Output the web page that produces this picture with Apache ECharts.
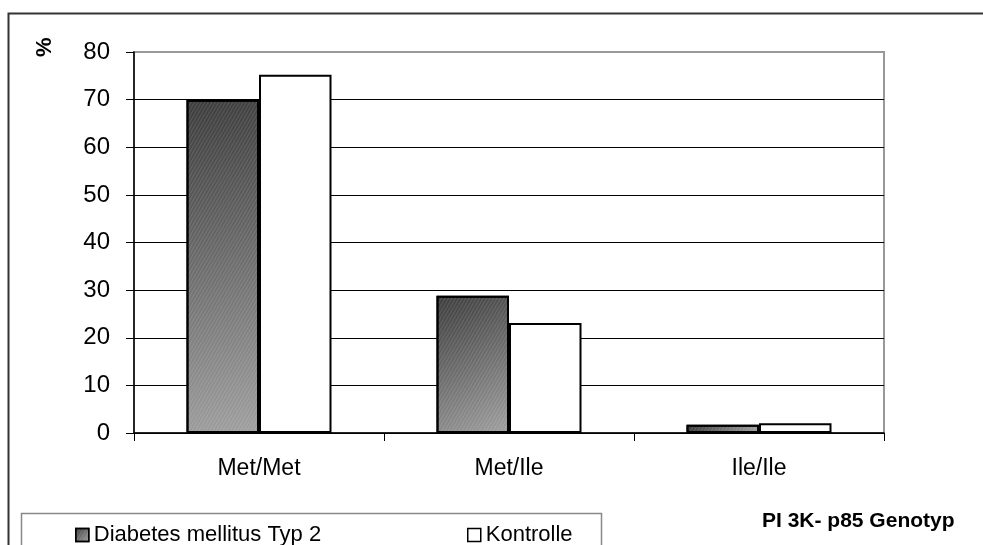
<!DOCTYPE html>
<html>
<head>
<meta charset="utf-8">
<script src="https://cdn.jsdelivr.net/npm/echarts@6/dist/echarts.min.js"></script>
<style>
  html, body { margin: 0; padding: 0; background: #fff; }
  #chart { width: 983px; height: 545px; }
</style>
</head>
<body>
<div id="chart"></div>
<script>
// genotype categories and % values
const categories = ["Met/Met", "Met/Ile", "Ile/Ile"]
const diabetesValues = [70, 28.8, 1.75]
const kontrolleValues = [75.2, 23.1, 2.05]
const yTicks = [0, 80, 10] // min, max, interval

const FONT = "'Liberation Sans', Arial, sans-serif"
const chart = echarts.init(document.getElementById("chart"))

const darkFill = new echarts.graphic.LinearGradient(0, 0, 1, 1, [
  { offset: 0, color: "#3c3c3c" },
  { offset: 1, color: "#a0a0a0" },
])

const option = {
  animation: false,
  backgroundColor: "#fff",
  textStyle: { fontFamily: FONT, color: "#000" },
  grid: {
    left: 134,
    right: 99,
    top: 52,
    bottom: 112,
    show: true,
    borderColor: "#999",
    borderWidth: 2,
  },
  xAxis: {
    type: "category",
    data: categories,
    axisLine: { lineStyle: { color: "#000", width: 1.5 } },
    axisTick: { show: true, length: 8, lineStyle: { color: "#000" } },
    axisLabel: { color: "#000", fontSize: 23, fontFamily: FONT, margin: 24 },
  },
  yAxis: {
    type: "value",
    min: yTicks[0],
    max: yTicks[1],
    interval: yTicks[2],
    axisLine: { show: true, lineStyle: { color: "#000", width: 1.5 } },
    axisTick: { show: true, length: 8, lineStyle: { color: "#000" } },
    axisLabel: { color: "#000", fontSize: 24, fontFamily: FONT, margin: 24 },
    splitLine: {
      lineStyle: {
        color: ["#000", "#000", "#000", "#000", "#000", "#000", "#000", "#000", "#999"],
        width: 1,
      },
    },
  },
  legend: [
    {
      data: ["Diabetes mellitus Typ 2"],
      left: 70,
      top: 519,
      itemWidth: 13,
      itemHeight: 13,
      icon: "rect",
      itemStyle: { borderColor: "#000", borderWidth: 1.5 },
      textStyle: { fontSize: 22, color: "#000", fontFamily: FONT },
    },
    {
      data: ["Kontrolle"],
      left: 462,
      top: 519,
      itemWidth: 13,
      itemHeight: 13,
      icon: "rect",
      itemStyle: { borderColor: "#000", borderWidth: 1.5 },
      textStyle: { fontSize: 22, color: "#000", fontFamily: FONT },
    },
  ],
  graphic: [
    {
      type: "rect",
      z: -10,
      silent: true,
      shape: { x: 8.5, y: 13.5, width: 1100, height: 1000 },
      style: { fill: "none", stroke: "#333", lineWidth: 2 },
    },
    {
      type: "rect",
      z: -5,
      silent: true,
      shape: { x: 21.5, y: 513.5, width: 580, height: 60 },
      style: { fill: "#fff", stroke: "#888", lineWidth: 1.5 },
    },
    {
      type: "text",
      x: 762,
      y: 511,
      style: {
        text: "PI 3K- p85 Genotyp",
        font: "bold 21px " + FONT,
        fill: "#000",
      },
    },
    {
      type: "text",
      x: 34,
      y: 57,
      rotation: Math.PI / 2,
      style: {
        text: "%",
        font: "bold 22px " + FONT,
        fill: "#000",
      },
    },
  ],
  series: [
    {
      name: "Diabetes mellitus Typ 2",
      type: "bar",
      data: diabetesValues,
      barGap: "0%",
      barCategoryGap: "42%",
      itemStyle: {
        color: darkFill,
        borderColor: "#000",
        borderWidth: 2,
        decal: {
          symbol: "rect",
          dashArrayX: [1, 0],
          dashArrayY: [1, 2],
          rotation: -Math.PI / 3,
          color: "rgba(255,255,255,0.12)",
        },
      },
    },
    {
      name: "Kontrolle",
      type: "bar",
      data: kontrolleValues,
      barGap: "0%",
      barCategoryGap: "42%",
      itemStyle: { color: "#fff", borderColor: "#000", borderWidth: 2 },
    },
  ],
}
chart.setOption(option)
</script>
</body>
</html>
